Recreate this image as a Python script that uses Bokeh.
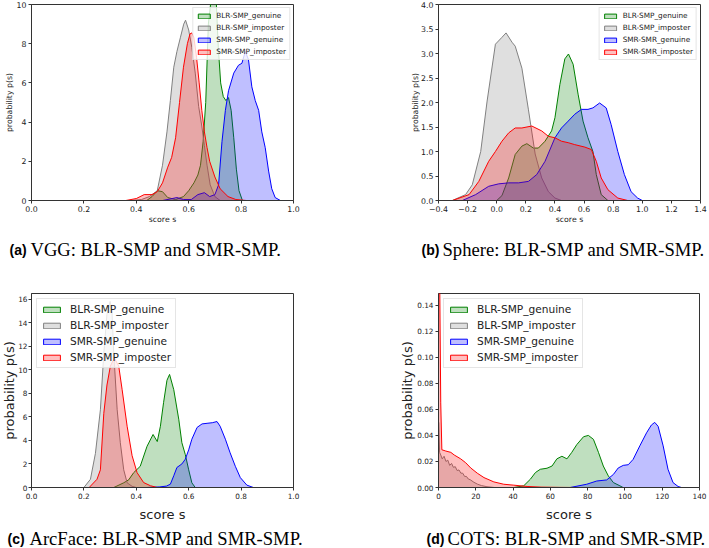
from bokeh.plotting import figure
from bokeh.models import Range1d, FixedTicker, Legend, LegendItem, Title
from bokeh.layouts import column, row
from bokeh.embed import file_html
from bokeh.resources import INLINE
from bokeh.core.properties import value

# ---------------- data ----------------
SERIES_A = ["BLR-SMP_genuine", "BLR-SMP_imposter", "SMR-SMP_genuine", "SMR-SMP_imposter"]
SERIES_B = ["BLR-SMP_genuine", "BLR-SMP_imposter", "SMR-SMR_genuine", "SMR-SMR_imposter"]
COLORS = ["green", "gray", "blue", "red"]
X_LABEL = "score s"
Y_LABEL = "probability p(s)"

# (a) VGG
a_green_x = [0.44, 0.46, 0.48, 0.50, 0.52, 0.55, 0.58, 0.60, 0.62, 0.635, 0.645, 0.655, 0.665, 0.675, 0.69, 0.705, 0.713, 0.722, 0.732, 0.742, 0.752, 0.762, 0.772, 0.782, 0.792, 0.805]
a_green_y = [0.0, 0.2, 0.5, 0.45, 0.15, 0.05, 0.2, 0.5, 0.9, 1.3, 1.8, 3.0, 5.0, 9.0, 10.8, 10.2, 7.8, 6.0, 5.3, 5.1, 5.25, 4.6, 3.2, 1.6, 0.5, 0.0]
a_gray_x = [0.38, 0.42, 0.45, 0.48, 0.50, 0.517, 0.53, 0.543, 0.555, 0.568, 0.581, 0.588, 0.60, 0.612, 0.625, 0.638, 0.65, 0.66, 0.67, 0.682, 0.70, 0.72]
a_gray_y = [0.0, 0.05, 0.2, 0.5, 1.8, 3.5, 5.1, 6.8, 7.6, 8.3, 9.0, 9.2, 8.7, 7.8, 6.5, 4.8, 3.8, 2.8, 1.8, 0.8, 0.2, 0.0]
a_blue_x = [0.50, 0.53, 0.555, 0.58, 0.61, 0.635, 0.66, 0.68, 0.70, 0.714, 0.727, 0.74, 0.752, 0.772, 0.79, 0.803, 0.816, 0.828, 0.841, 0.854, 0.867, 0.879, 0.892, 0.905, 0.917, 0.93, 0.95]
a_blue_y = [0.0, 0.08, 0.15, 0.05, 0.05, 0.3, 0.4, 0.2, 0.3, 0.8, 3.0, 4.6, 5.6, 6.5, 6.9, 7.0, 7.6, 7.2, 5.8, 5.1, 4.6, 3.5, 2.7, 1.5, 0.6, 0.15, 0.0]
a_red_x = [0.36, 0.40, 0.43, 0.46, 0.48, 0.50, 0.52, 0.535, 0.55, 0.565, 0.58, 0.595, 0.605, 0.612, 0.62, 0.63, 0.64, 0.65, 0.66, 0.67, 0.68, 0.70, 0.72, 0.75, 0.78, 0.82]
a_red_y = [0.0, 0.1, 0.3, 0.3, 0.45, 0.9, 1.7, 2.2, 3.2, 5.0, 6.8, 8.0, 8.5, 8.55, 8.3, 7.3, 6.0, 4.6, 3.5, 2.7, 2.0, 1.2, 0.6, 0.2, 0.05, 0.0]

# (b) Sphere
b_green_x = [0.0, 0.036, 0.082, 0.127, 0.173, 0.207, 0.252, 0.286, 0.332, 0.377, 0.40, 0.434, 0.468, 0.493, 0.525, 0.559, 0.593, 0.627, 0.661, 0.684, 0.718, 0.764]
b_green_y = [0.0, 0.1, 0.46, 0.94, 1.11, 1.16, 1.07, 1.07, 1.21, 1.42, 1.69, 2.37, 2.89, 2.99, 2.78, 2.17, 1.62, 1.28, 1.0, 0.53, 0.12, 0.0]
b_gray_x = [-0.305, -0.214, -0.168, -0.11, -0.066, -0.009, 0.036, 0.064, 0.105, 0.127, 0.173, 0.218, 0.264, 0.309, 0.355, 0.40, 0.445]
b_gray_y = [0.0, 0.12, 0.32, 1.0, 2.03, 3.19, 3.33, 3.42, 3.23, 3.15, 2.7, 1.85, 0.95, 0.46, 0.18, 0.05, 0.0]
b_blue_x = [-0.236, -0.145, -0.055, 0.014, 0.082, 0.15, 0.218, 0.275, 0.332, 0.40, 0.445, 0.491, 0.536, 0.582, 0.627, 0.661, 0.707, 0.752, 0.786, 0.832, 0.877, 0.923, 0.968, 1.0]
b_blue_y = [0.0, 0.12, 0.29, 0.34, 0.36, 0.36, 0.39, 0.53, 0.8, 1.28, 1.48, 1.62, 1.76, 1.86, 1.86, 1.89, 1.99, 1.89, 1.55, 1.0, 0.53, 0.18, 0.05, 0.0]
b_red_x = [-0.305, -0.19, -0.123, -0.055, -0.009, 0.036, 0.082, 0.127, 0.173, 0.241, 0.309, 0.355, 0.40, 0.445, 0.491, 0.536, 0.605, 0.65, 0.684, 0.718, 0.764, 0.832, 0.90]
b_red_y = [0.0, 0.12, 0.39, 0.8, 1.0, 1.21, 1.38, 1.48, 1.48, 1.52, 1.42, 1.31, 1.28, 1.21, 1.18, 1.14, 1.09, 1.04, 0.8, 0.46, 0.22, 0.05, 0.0]

# (c) ArcFace
c_green_x = [0.314, 0.352, 0.371, 0.39, 0.415, 0.441, 0.464, 0.48, 0.492, 0.504, 0.517, 0.527, 0.543, 0.562, 0.574, 0.587, 0.60, 0.612, 0.625]
c_green_y = [0.0, 0.4, 0.65, 1.26, 1.8, 3.5, 4.5, 3.9, 5.2, 7.2, 9.1, 9.6, 8.3, 5.8, 3.8, 2.8, 1.5, 0.4, 0.0]
c_gray_x = [0.20, 0.225, 0.244, 0.263, 0.276, 0.288, 0.30, 0.307, 0.314, 0.327, 0.339, 0.352, 0.365, 0.384, 0.40]
c_gray_y = [0.0, 0.7, 2.9, 6.6, 11.4, 14.7, 15.8, 15.0, 11.4, 6.6, 3.8, 1.5, 0.4, 0.1, 0.0]
c_blue_x = [0.44, 0.49, 0.515, 0.53, 0.543, 0.555, 0.574, 0.587, 0.60, 0.612, 0.632, 0.651, 0.67, 0.69, 0.708, 0.72, 0.74, 0.758, 0.778, 0.797, 0.822, 0.847]
c_blue_y = [0.0, 0.05, 0.12, 0.28, 1.0, 1.7, 2.0, 2.4, 3.2, 4.1, 5.1, 5.4, 5.45, 5.5, 5.6, 5.2, 4.1, 2.95, 1.8, 0.84, 0.2, 0.0]
c_red_x = [0.22, 0.25, 0.263, 0.276, 0.288, 0.301, 0.316, 0.333, 0.346, 0.365, 0.384, 0.403, 0.428, 0.454, 0.48]
c_red_y = [0.0, 0.7, 1.5, 6.3, 8.7, 10.3, 11.0, 10.3, 8.3, 5.2, 2.7, 1.26, 0.42, 0.15, 0.0]

# (d) COTS
d_green_x = [40.4, 45.7, 49.3, 52.0, 54.6, 58.2, 60.9, 63.5, 66.2, 68.9, 71.5, 74.2, 77.8, 80.4, 83.1, 85.8, 88.4, 91.1, 93.8, 97.3, 99.0]
d_green_y = [0.0, 0.0013, 0.0064, 0.0115, 0.014, 0.0148, 0.0165, 0.022, 0.024, 0.022, 0.027, 0.033, 0.039, 0.040, 0.037, 0.027, 0.0165, 0.0089, 0.0038, 0.0013, 0.0]
d_gray_x = [0.0, 0.1, 0.6, 1.2, 2.0, 3.0, 4.0, 5.0, 6.0, 7.0, 8.0, 9.0, 10.0, 11.0, 12.0, 13.0, 14.0, 15.0, 16.0, 17.0, 19.0, 21.0, 23.0, 26.0, 30.0]
d_gray_y = [0.0, 0.05, 0.027, 0.025, 0.022, 0.024, 0.02, 0.021, 0.017, 0.0185, 0.0155, 0.016, 0.013, 0.0135, 0.011, 0.011, 0.0085, 0.0085, 0.0065, 0.006, 0.004, 0.0025, 0.0015, 0.0006, 0.0]
d_blue_x = [70.6, 79.5, 84.9, 90.2, 93.8, 96.4, 99.1, 101.8, 104.4, 108.0, 111.6, 114.2, 116.0, 117.8, 120.5, 123.1, 125.8, 128.5, 130.3]
d_blue_y = [0.0, 0.0025, 0.005, 0.0058, 0.010, 0.015, 0.017, 0.0175, 0.0216, 0.032, 0.042, 0.048, 0.050, 0.047, 0.032, 0.014, 0.0038, 0.0008, 0.0]
d_red_x = [0.0, 0.05, 0.3, 0.7, 1.2, 1.8, 3.9, 6.6, 8.4, 11.9, 14.6, 17.3, 20.8, 24.4, 29.7, 35.0, 40.4, 47.5, 55.0, 65.0, 75.0]
d_red_y = [0.0, 0.5, 0.4, 0.15, 0.065, 0.029, 0.028, 0.027, 0.025, 0.022, 0.019, 0.015, 0.011, 0.0076, 0.0043, 0.0025, 0.0018, 0.0008, 0.0003, 0.0001, 0.0]

# ticks
a_xticks = [0.0, 0.2, 0.4, 0.6, 0.8, 1.0]
a_xlabels = ["0.0", "0.2", "0.4", "0.6", "0.8", "1.0"]
a_yticks = [0, 2, 4, 6, 8, 10]
a_ylabels = ["0", "2", "4", "6", "8", "10"]
b_xticks = [-0.4, -0.2, 0.0, 0.2, 0.4, 0.6, 0.8, 1.0, 1.2, 1.4]
b_xlabels = ["\u22120.4", "\u22120.2", "0.0", "0.2", "0.4", "0.6", "0.8", "1.0", "1.2", "1.4"]
b_yticks = [0.0, 0.5, 1.0, 1.5, 2.0, 2.5, 3.0, 3.5, 4.0]
b_ylabels = ["0.0", "0.5", "1.0", "1.5", "2.0", "2.5", "3.0", "3.5", "4.0"]
c_xticks = a_xticks
c_xlabels = a_xlabels
c_yticks = [0, 2, 4, 6, 8, 10, 12, 14, 16]
c_ylabels = ["0", "2", "4", "6", "8", "10", "12", "14", "16"]
d_xticks = [0, 20, 40, 60, 80, 100, 120, 140]
d_xlabels = ["0", "20", "40", "60", "80", "100", "120", "140"]
d_yticks = [0.0, 0.02, 0.04, 0.06, 0.08, 0.10, 0.12, 0.14]
d_ylabels = ["0.00", "0.02", "0.04", "0.06", "0.08", "0.10", "0.12", "0.14"]

caption_tags_1 = ["(a)", "(b)"]
caption_texts_1 = ["VGG: BLR-SMP and SMR-SMP.", "Sphere: BLR-SMP and SMR-SMP."]
caption_tags_2 = ["(c)", "(d)"]
caption_texts_2 = ["ArcFace: BLR-SMP and SMR-SMP.", "COTS: BLR-SMP and SMR-SMP."]

FONT = "DejaVu Sans"
FRAME = "#333333"


def panel(w, h, bl, br, bt, bb, xr, yr, xt, xl, yt, yl, series, names, small,
          x_standoff, y_standoff, ytick_standoff):
    p = figure(width=w, height=h, x_range=Range1d(*xr), y_range=Range1d(*yr),
               output_backend="svg", toolbar_location=None,
               min_border_left=bl, min_border_right=br, min_border_top=bt, min_border_bottom=bb)
    p.xgrid.visible = False
    p.ygrid.visible = False
    p.outline_line_color = FRAME
    p.outline_line_width = 1
    tick_fs = "7.8px" if small else "7.3px"
    lab_fs = "7.8px" if small else "13px"
    for ax, ticks, labels in ((p.xaxis[0], xt, xl), (p.yaxis[0], yt, yl)):
        ax.ticker = FixedTicker(ticks=ticks)
        ax.major_label_overrides = {t: s for t, s in zip(ticks, labels)}
        ax.minor_tick_line_color = None
        ax.major_tick_in = 0
        ax.major_tick_out = 3
        ax.major_tick_line_color = FRAME
        ax.axis_line_color = FRAME
        ax.major_label_text_font = FONT
        ax.major_label_text_font_size = tick_fs
        ax.major_label_text_color = "#222222"
        ax.major_label_standoff = 2
    p.yaxis.major_label_standoff = ytick_standoff
    # axis titles
    p.add_layout(Title(text=X_LABEL, align="center", text_font=FONT, text_font_size=lab_fs,
                       text_font_style="normal", text_color="#222222", standoff=x_standoff, offset=0),
                 "below")
    p.add_layout(Title(text=Y_LABEL, align="center", text_font=FONT, text_font_size=lab_fs,
                       text_font_style="normal", text_color="#222222", standoff=y_standoff, offset=0),
                 "left")

    items = []
    for (xs, ys), name, col in zip(series, names, COLORS):
        r = p.patch(xs, ys, fill_color=col, fill_alpha=0.25, line_color=col, line_width=1)
        items.append(LegendItem(label=name, renderers=[r]))
    if small:
        leg = Legend(items=items, location="top_right", margin=3, padding=3, spacing=3,
                     glyph_width=15, glyph_height=6, label_height=8, label_standoff=5,
                     label_text_font=FONT, label_text_font_size="7.3px")
    else:
        leg = Legend(items=items, location="top_left", margin=5, padding=4, spacing=4,
                     glyph_width=21, glyph_height=7, label_height=12, label_standoff=8,
                     label_text_font=FONT, label_text_font_size="10.6px")
    leg.label_text_color = "#222222"
    leg.border_line_color = "#cccccc"
    leg.border_line_width = 1
    leg.background_fill_alpha = 0.8
    p.add_layout(leg)
    return p


def caption(h, yc, xs_tag, xs_text, tags, texts):
    p = figure(width=709, height=h, x_range=Range1d(0, 709), y_range=Range1d(h, 0),
               output_backend="svg", toolbar_location=None, min_border=0,
               x_axis_type=None, y_axis_type=None)
    p.outline_line_color = None
    p.xgrid.visible = False
    p.ygrid.visible = False
    p.text(x=xs_tag, y=[yc] * len(tags), text=tags, text_font=value("Liberation Sans"),
           text_font_style="bold", text_font_size="14px", text_baseline="middle",
           text_align="left", text_color="#000000")
    p.text(x=xs_text, y=[yc] * len(texts), text=texts, text_font=value("Liberation Serif"),
           text_font_size="18.6px", text_baseline="middle", text_align="left", text_color="#000000")
    return p


pa = panel(354, 230, 31, 61, 4, 30, (0, 1), (0, 10), a_xticks, a_xlabels, a_yticks, a_ylabels,
           [(a_green_x, a_green_y), (a_gray_x, a_gray_y), (a_blue_x, a_blue_y), (a_red_x, a_red_y)],
           SERIES_A, True, -3, -1, 2)
pb = panel(355, 230, 84, 9, 4, 30, (-0.4, 1.4), (0, 4), b_xticks, b_xlabels, b_yticks, b_ylabels,
           [(b_green_x, b_green_y), (b_gray_x, b_gray_y), (b_blue_x, b_blue_y), (b_red_x, b_red_y)],
           SERIES_B, True, -3, -3, 2)
pc = panel(354, 254, 31, 61, 23, 36, (0, 1), (0, 16.47), c_xticks, c_xlabels, c_yticks, c_ylabels,
           [(c_green_x, c_green_y), (c_gray_x, c_gray_y), (c_blue_x, c_blue_y), (c_red_x, c_red_y)],
           SERIES_A, False, 6, -3, 1)
pd_ = panel(355, 254, 84, 10, 23, 36, (0, 140), (0, 0.149), d_xticks, d_xlabels, d_yticks, d_ylabels,
            [(d_green_x, d_green_y), (d_gray_x, d_gray_y), (d_blue_x, d_blue_y), (d_red_x, d_red_y)],
            SERIES_A, False, 6, 0, 2)

cap1 = caption(40, 19, [9, 421], [30, 442], caption_tags_1, caption_texts_1)
cap2 = caption(24, 14, [7, 426], [29, 447], caption_tags_2, caption_texts_2)

layout = column(row(pa, pb), cap1, row(pc, pd_), cap2, margin=(0, 0, 0, 0))

open("out.html", "w").write(file_html(layout, INLINE))
